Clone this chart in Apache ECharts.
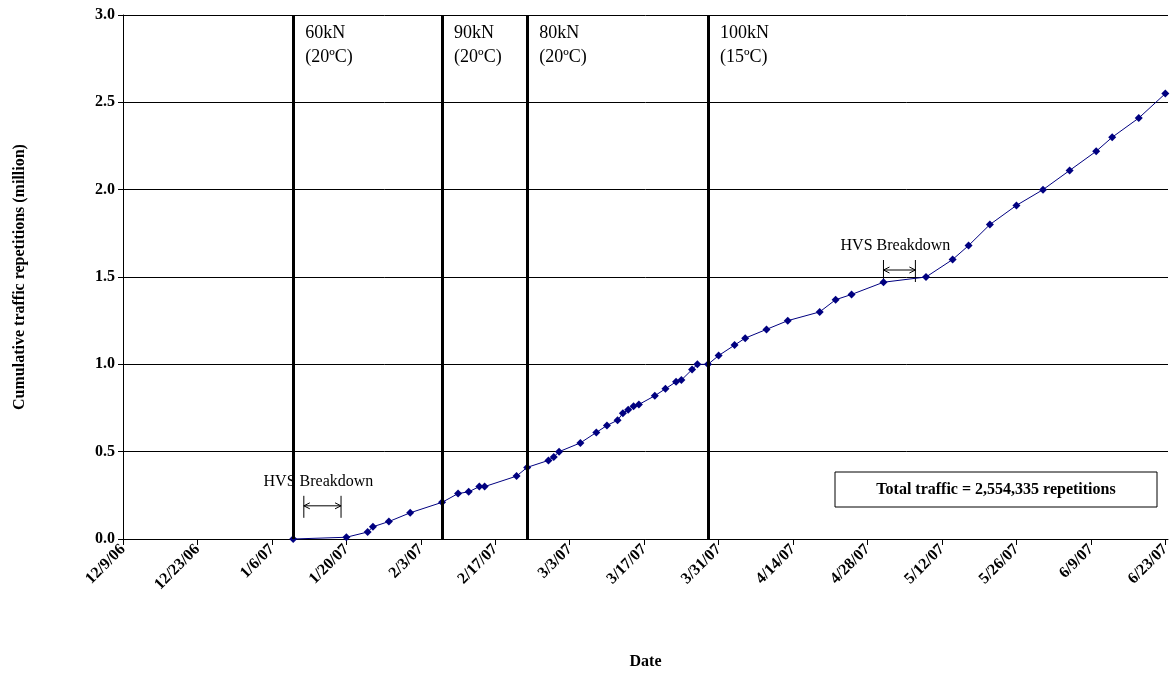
<!DOCTYPE html>
<html><head><meta charset="utf-8">
<script src="https://cdn.jsdelivr.net/npm/echarts@6/dist/echarts.min.js"></script>
<style>html,body{margin:0;padding:0;background:#fff}#c{width:1175px;height:675px}</style>
</head><body><div id="c"></div>
<script>
const startDate = '2006-12-09';
const endDate = '2007-06-23';
const dates = ['2007-01-10','2007-01-20','2007-01-24','2007-01-25','2007-01-28','2007-02-01','2007-02-07','2007-02-10','2007-02-12','2007-02-14','2007-02-15','2007-02-21','2007-02-23','2007-02-27','2007-02-28','2007-03-01','2007-03-05','2007-03-08','2007-03-10','2007-03-12','2007-03-13','2007-03-14','2007-03-15','2007-03-16','2007-03-19','2007-03-21','2007-03-23','2007-03-24','2007-03-26','2007-03-27','2007-03-29','2007-03-31','2007-04-03','2007-04-05','2007-04-09','2007-04-13','2007-04-19','2007-04-22','2007-04-25','2007-05-01','2007-05-09','2007-05-14','2007-05-17','2007-05-21','2007-05-26','2007-05-31','2007-06-05','2007-06-10','2007-06-13','2007-06-18','2007-06-23'];
const reps = [0.0,0.01,0.04,0.07,0.10,0.15,0.21,0.26,0.27,0.30,0.30,0.36,0.41,0.45,0.47,0.50,0.55,0.61,0.65,0.68,0.72,0.74,0.76,0.77,0.82,0.86,0.90,0.91,0.97,1.00,1.00,1.05,1.11,1.15,1.20,1.25,1.30,1.37,1.40,1.47,1.50,1.60,1.68,1.80,1.91,2.00,2.11,2.22,2.30,2.41,2.55];
const loadDates = ['2007-01-10','2007-02-07','2007-02-23','2007-03-29'];
const loadLabels = ['60kN\n(20ºC)','90kN\n(20ºC)','80kN\n(20ºC)','100kN\n(15ºC)'];
const hvs = [['2007-01-12','2007-01-19',0.19],['2007-05-01','2007-05-07',1.54]];

const day = s => (Date.parse(s) - Date.parse(startDate)) / 86400000;
const fmt = d => { const t = new Date(Date.parse(startDate) + d*86400000); return (t.getUTCMonth()+1)+'/'+t.getUTCDate()+'/'+String(t.getUTCFullYear()).slice(2); };
const F = 'Liberation Serif';
const chart = echarts.init(document.getElementById('c'));
chart.setOption({
  animation:false,
  grid:{left:123,right:7,top:15,bottom:136},
  xAxis:{type:'value',min:0,max:day(endDate)+0.5,interval:14,
    name:'Date',nameLocation:'middle',nameGap:115,nameTextStyle:{fontFamily:F,fontWeight:'bold',fontSize:16,color:'#000'},
    axisLine:{lineStyle:{color:'#000'}},axisTick:{inside:false,length:6,lineStyle:{color:'#000'}},
    splitLine:{show:false},
    axisLabel:{rotate:45,fontFamily:F,fontWeight:'bold',fontSize:16,color:'#000',formatter:v=>v>day(endDate)?'':fmt(v),showMaxLabel:false}},
  yAxis:{type:'value',min:0,max:3,interval:0.5,
    name:'Cumulative traffic repetitions (million)',nameLocation:'middle',nameGap:95,nameTextStyle:{fontFamily:F,fontWeight:'bold',fontSize:16,color:'#000'},
    axisLine:{show:true,lineStyle:{color:'#000'}},axisTick:{show:true,length:5,lineStyle:{color:'#000'}},
    splitLine:{lineStyle:{color:'#000',width:1}},
    axisLabel:{fontFamily:F,fontWeight:'bold',fontSize:16,color:'#000',formatter:v=>v.toFixed(1)}},
  series:[
    {type:'line',clip:false,data:dates.map((d,i)=>[day(d),reps[i]]),symbol:'diamond',symbolSize:8,
     itemStyle:{color:'#000080'},lineStyle:{color:'#000080',width:1},
     markLine:{symbol:'none',silent:true,label:{show:false},lineStyle:{color:'#000',width:3,type:'solid'},
       data:loadDates.map(d=>({xAxis:day(d)}))}}
  ]
});
const g=[];
loadDates.forEach((d,i)=>{
  const p=chart.convertToPixel({gridIndex:0},[day(d),3.0]);
  g.push({type:'text',x:p[0]+12,y:p[1]+6,style:{text:loadLabels[i],fontFamily:F,fontSize:18,fill:'#000',lineHeight:24,align:'left',verticalAlign:'top'}});
});
hvs.forEach(h=>{
  const a=chart.convertToPixel({gridIndex:0},[day(h[0]),h[2]]);
  const b=chart.convertToPixel({gridIndex:0},[day(h[1]),h[2]]);
  const y=a[1];
  g.push({type:'line',shape:{x1:a[0],y1:y-10,x2:a[0],y2:y+12},style:{stroke:'#000',lineWidth:1}});
  g.push({type:'line',shape:{x1:b[0],y1:y-10,x2:b[0],y2:y+12},style:{stroke:'#000',lineWidth:1}});
  g.push({type:'line',shape:{x1:a[0],y1:y,x2:b[0],y2:y},style:{stroke:'#000',lineWidth:1}});
  g.push({type:'polyline',shape:{points:[[a[0]+6,y-3],[a[0],y],[a[0]+6,y+3]]},style:{stroke:'#000',fill:null}});
  g.push({type:'polyline',shape:{points:[[b[0]-6,y-3],[b[0],y],[b[0]-6,y+3]]},style:{stroke:'#000',fill:null}});
  g.push({type:'text',x:(a[0]+b[0])/2-4,y:y-16,style:{text:'HVS Breakdown',fontFamily:F,fontSize:16,fill:'#000',align:'center',verticalAlign:'bottom'}});
});
g.push({type:'rect',shape:{x:835,y:472,width:322,height:35},style:{fill:'#fff',stroke:'#000',lineWidth:1}});
g.push({type:'text',x:996,y:490,style:{text:'Total traffic = 2,554,335 repetitions',fontFamily:F,fontWeight:'bold',fontSize:16,fill:'#000',align:'center',verticalAlign:'middle'}});
chart.setOption({graphic:g});
</script></body></html>
